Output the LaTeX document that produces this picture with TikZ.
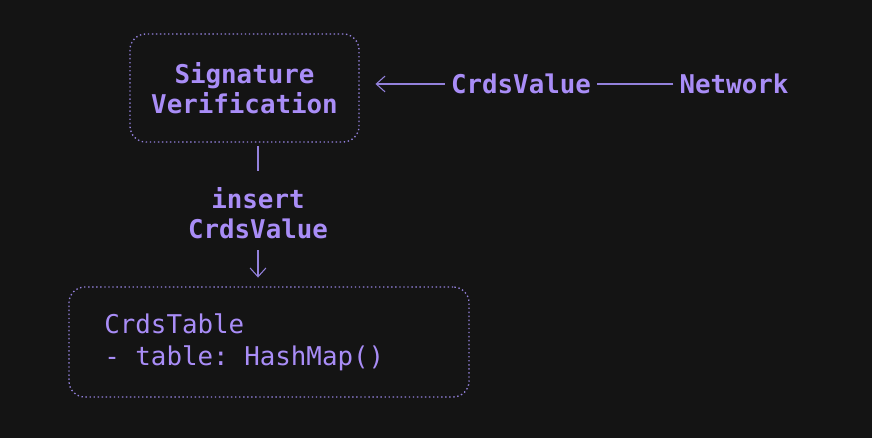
\documentclass[tikz,border=0pt]{standalone}
\usepackage{fontspec}
\setmonofont{DejaVu Sans Mono}
\usetikzlibrary{positioning,arrows.meta}

\definecolor{bgdark}{HTML}{141414}
\definecolor{lavender}{HTML}{A98DF7}
\definecolor{edgelav}{HTML}{9381DC}

\begin{document}
\begin{tikzpicture}[x=0.02cm, y=-0.02cm,
  every node/.style={text=lavender, font=\ttfamily\bfseries\fontsize{14.7}{17}\selectfont},
  box/.style={draw=edgelav, line width=0.75pt, dash pattern=on 0.8pt off 1.5pt,
    rounded corners=9pt, inner sep=0pt},
  wire/.style={draw=edgelav, line width=0.6pt},
  tip/.style={-{Straight Barb[length=5pt, width=9pt, line width=0.6pt]}}]

  \fill[bgdark] (0,0) rectangle (872,438);

  % Boxes
  \node[box, minimum width=229*0.02cm, minimum height=108*0.02cm, align=center]
    (sig) at (244.5,88) {Signature\\Verification};
  \node[box, minimum width=400*0.02cm, minimum height=110*0.02cm] (table) at (269,342) {};
  \node[anchor=west, align=left, inner sep=0pt,
    font=\ttfamily\fontsize{14.7}{18.2}\selectfont]
    (fields) at (104,342) {CrdsTable\\- table: HashMap()};

  % Labels
  \node (value) at (521,84) {CrdsValue};
  \node (net) at (734,84) {Network};
  \node[align=center] (insert) at (258,213) {insert\\CrdsValue};

  % Connectors
  \draw[wire] (net.west) -- (value.east);
  \draw[wire, tip, shorten >=9pt] (value.west) -- (sig.east |- value.west);
  \draw[wire, shorten <=2pt, shorten >=6pt] (sig.south -| insert.north) -- (insert.north);
  \draw[wire, tip, shorten <=3pt, shorten >=5pt] (insert.south) -- (table.north -| insert.south);

\end{tikzpicture}
\end{document}
